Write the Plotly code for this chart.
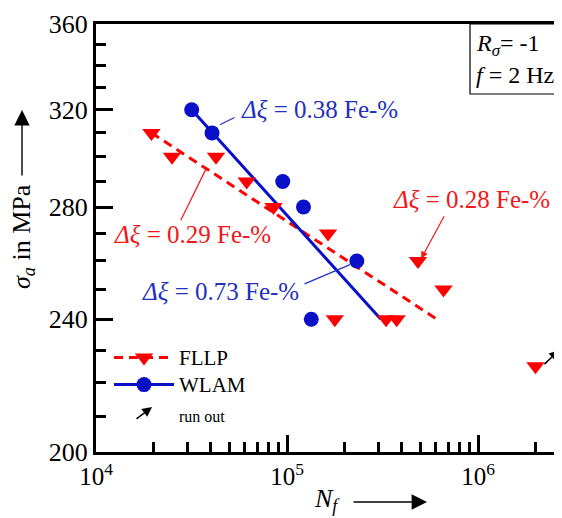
import numpy as np
import plotly.graph_objects as go

# ---------------- data ----------------
fllp_N = [1.95e4, 2.5e4, 4.25e4, 6.15e4, 8.5e4, 1.64e5, 4.85e5, 6.6e5, 1.78e5, 3.3e5, 3.75e5]
fllp_S = [310, 300, 300, 290, 280, 270, 260, 250, 240, 240, 240]
fllp_runout_N = [2.0e6]
fllp_runout_S = [225]
wlam_N = [3.17e4, 4.05e4, 9.5e4, 1.22e5, 2.32e5, 1.34e5]
wlam_S = [320, 310, 290, 280, 260, 240]
fllp_fit_N = [1.95e4, 6.1e5]
fllp_fit_S = [310, 240]
wlam_fit_N = [3.17e4, 3.1e5]
wlam_fit_S = [320, 240]

y_ticks = [200, 240, 280, 320, 360]
y_minor = [210, 220, 230, 250, 260, 270, 290, 300, 310, 330, 340, 350]
x_ticks = [1e4, 1e5, 1e6]
x_ticktext = ["10<sup>4</sup>", "10<sup>5</sup>", "10<sup>6</sup>"]
x_minor = [k * 10 ** e for e in (4, 5) for k in range(2, 10)] + [2e6]

RED = "#ff0000"
BLUE = "#0a0fc8"
TXT_RED = "#f01818"
TXT_BLUE = "#2230c0"
FONT = "Liberation Serif"

# page has an 8px body margin -> figure is 8px smaller and shifted
OFF = 8
W, H = 562 - OFF, 518 - OFF
ML, MT, MB, MR = 96 - OFF, 24 - OFF, 66, 0
PW = W - ML - MR
PH = H - MT - MB
XR = [4.0, 4.0 + PW / 191.0]
YR = [np.log10(200), np.log10(360)]

fig = go.Figure()

# fit lines
fig.add_trace(go.Scatter(x=fllp_fit_N, y=fllp_fit_S, mode="lines",
                         line=dict(color=RED, width=3, dash="9px,6px"),
                         showlegend=False, hoverinfo="skip"))
fig.add_trace(go.Scatter(x=wlam_fit_N, y=wlam_fit_S, mode="lines",
                         line=dict(color=BLUE, width=3),
                         showlegend=False, hoverinfo="skip"))
# points
fig.add_trace(go.Scatter(x=fllp_N + fllp_runout_N, y=fllp_S + fllp_runout_S, mode="markers",
                         marker=dict(symbol="triangle-down", size=16, color=RED),
                         showlegend=False))
fig.add_trace(go.Scatter(x=wlam_N, y=wlam_S, mode="markers",
                         marker=dict(symbol="circle", size=15, color=BLUE),
                         showlegend=False))

# legend proxies
fig.add_trace(go.Scatter(x=[None], y=[None], mode="lines+markers",
                         name="<span style='font-size:21px'>FLLP</span>",
                         legendgroup="a",
                         line=dict(color=RED, width=3, dash="9px,6px"),
                         marker=dict(symbol="triangle-down", size=16, color=RED)))
fig.add_trace(go.Scatter(x=[None], y=[None], mode="lines+markers",
                         name="<span style='font-size:21px'>WLAM</span>",
                         legendgroup="a",
                         line=dict(color=BLUE, width=3),
                         marker=dict(symbol="circle", size=15, color=BLUE)))
fig.add_trace(go.Scatter(x=[None], y=[None], mode="markers",
                         name="<span style='font-size:16px'>run out</span>",
                         legendgroup="b",
                         marker=dict(symbol="circle", size=6, color="rgba(0,0,0,0)")))

annotations = []

def label(x, y, text, color, xa="left"):
    annotations.append(dict(x=x, y=y, xref="x", yref="y", text=text, showarrow=False,
                            xanchor=xa, yanchor="middle",
                            font=dict(family=FONT, size=25, color=color)))

def leader(tip, tail, color, head=0):
    annotations.append(dict(x=tip[0], y=tip[1], ax=tail[0], ay=tail[1],
                            xref="x", yref="y", axref="x", ayref="y", text="",
                            showarrow=True, arrowhead=head, arrowsize=1.2,
                            arrowwidth=1.2, arrowcolor=color))

label(4.750, np.log10(320), "<i>Δξ</i> = 0.38 Fe-%", TXT_BLUE)
leader((4.649, 2.4962), (4.733, 2.5010), TXT_BLUE)
label(4.084, 2.4306, "<i>Δξ</i> = 0.29 Fe-%", TXT_RED)
leader((4.576, 2.4699), (4.440, 2.4384), TXT_RED)
label(5.545, 2.4515, "<i>Δξ</i> = 0.28 Fe-%", TXT_RED)
leader((5.702, 2.4163), (5.827, 2.4425), TXT_RED, head=2)
label(4.230, 2.3967, "<i>Δξ</i> = 0.73 Fe-%", TXT_BLUE)
leader((5.330, 2.4128), (5.084, 2.4009), TXT_BLUE)

# run-out arrow
annotations.append(dict(x=6.424, y=np.log10(230), ax=6.340, ay=2.3526,
                        xref="x", yref="y", axref="x", ayref="y", text="",
                        showarrow=True, arrowhead=2, arrowsize=1.3, arrowwidth=1.5,
                        arrowcolor="black"))

def px2paper(px, py):
    # px, py given in screen pixels of the reference
    return (px - OFF - ML) / PW, (H - MB - (py - OFF)) / PH

# legend symbol for "run out"
ax_, ay_ = px2paper(152, 407)
annotations.append(dict(x=ax_, y=ay_, xref="paper", yref="paper", text="",
                        ax=-17, ay=13, showarrow=True, arrowhead=2, arrowsize=1.3,
                        arrowwidth=1.5, arrowcolor="black"))

# axis titles
yx, yy = px2paper(23, 237)
annotations.append(dict(x=yx, y=yy, xref="paper", yref="paper",
                        text="<i>σ</i><sub><i>a</i></sub> in MPa", textangle=-90,
                        showarrow=False, xanchor="center", yanchor="middle",
                        font=dict(family=FONT, size=26, color="black")))
hx, hy = px2paper(22, 110)
annotations.append(dict(x=hx, y=hy, xref="paper", yref="paper", text="",
                        ax=0, ay=67, showarrow=True, arrowhead=2, arrowsize=2.2,
                        arrowwidth=1.4, arrowcolor="black"))
nx, ny = px2paper(312, 500)
annotations.append(dict(x=nx, y=ny, xref="paper", yref="paper",
                        text="<i>N</i><sub><i>f</i></sub>",
                        showarrow=False, xanchor="left", yanchor="middle",
                        font=dict(family=FONT, size=26, color="black")))
hx, hy = px2paper(427, 502)
annotations.append(dict(x=hx, y=hy, xref="paper", yref="paper", text="",
                        ax=-75, ay=0, showarrow=True, arrowhead=2, arrowsize=2.2,
                        arrowwidth=1.4, arrowcolor="black"))

# conditions box
bx0, by0 = px2paper(470, 94)
bx1, _ = px2paper(600, 94)
t1x, t1y = px2paper(474, 45)
t2x, t2y = px2paper(474, 75)
annotations.append(dict(x=t1x, y=t1y, xref="paper", yref="paper",
                        text="<i>R</i><sub><i>σ</i></sub>= -1", showarrow=False,
                        xanchor="left", yanchor="middle",
                        font=dict(family=FONT, size=24, color="black")))
annotations.append(dict(x=t2x, y=t2y, xref="paper", yref="paper",
                        text="<i>f</i> = 2 Hz", showarrow=False,
                        xanchor="left", yanchor="middle",
                        font=dict(family=FONT, size=24, color="black")))

shapes = [dict(type="rect", xref="paper", yref="paper", x0=bx0, x1=bx1, y0=by0, y1=1.0,
               line=dict(color="black", width=1.2), fillcolor="rgba(0,0,0,0)")]

lx, ly = px2paper(109, 339)
fig.update_layout(
    width=W, height=H, autosize=False,
    margin=dict(l=ML, r=MR, t=MT, b=MB, pad=0),
    paper_bgcolor="white", plot_bgcolor="white",
    font=dict(family=FONT, size=25, color="black"),
    annotations=annotations, shapes=shapes,
    legend=dict(x=lx, y=ly, xanchor="left", yanchor="top",
                bgcolor="rgba(0,0,0,0)", itemwidth=60, tracegroupgap=3,
                font=dict(family=FONT, size=18.5, color="black"), traceorder="grouped"),
)

common = dict(showgrid=False, zeroline=False)
fig.update_layout(
    xaxis=dict(type="log", range=XR, showline=True, linecolor="black", linewidth=3,
               mirror=True, ticks="inside", ticklen=17, tickwidth=3, tickcolor="black",
               tickmode="array", tickvals=x_ticks, ticktext=x_ticktext,
               tickfont=dict(family=FONT, size=25, color="black"), **common),
    yaxis=dict(type="log", range=YR, showline=True, linecolor="black", linewidth=3,
               mirror=False, ticks="inside", ticklen=17, tickwidth=3, tickcolor="black",
               tickmode="array", tickvals=y_ticks, ticktext=[str(v) for v in y_ticks],
               tickfont=dict(family=FONT, size=26, color="black"), **common),
    xaxis2=dict(type="log", range=XR, overlaying="x", anchor="y", side="bottom",
                showline=False, ticks="inside", ticklen=10, tickwidth=3, tickcolor="black",
                tickmode="array", tickvals=x_minor, showticklabels=False, **common),
    yaxis2=dict(type="log", range=YR, overlaying="y", anchor="x", side="left",
                showline=False, ticks="inside", ticklen=10, tickwidth=3, tickcolor="black",
                tickmode="array", tickvals=y_minor, showticklabels=False, **common),
)
# an empty trace to activate the minor-tick axes
fig.add_trace(go.Scatter(x=[None], y=[None], xaxis="x2", yaxis="y2", showlegend=False,
                         hoverinfo="skip"))

fig.write_html("out.html")
